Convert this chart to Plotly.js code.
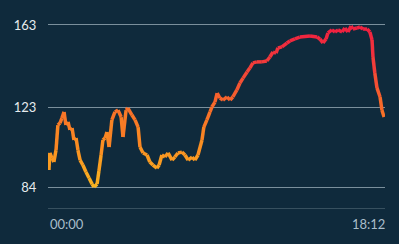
<!DOCTYPE html>
<html>
<head>
<meta charset="utf-8">
<script src="https://cdn.plot.ly/plotly-3.0.1.min.js"></script>
<style>html,body{margin:0;padding:0;background:#0f2a3c;}#chart{width:399px;height:244px;}</style>
</head>
<body>
<div id="chart"></div>
<script>
// time of day in minutes since start
const minutes = [3,6,13,19,26,32,39,45,52,58,65,71,78,84,91,97,104,113,123,133,143,149,159,165,172,178,185,191,198,207,217,227,237,243,253,259,272,282,292,298,308,321,330,340,353,360,369,379,389,402,411,421,434,444,454,467,476,486,499,505,515,525,531,541,548,557,567,580,590,599,612,622,632,645,654,664,677,693,709,719,729,739,745,758,774,784,800,816,849,872,881,891,901,907,920,930,940,953,962,972,982,988,1001,1011,1021,1034,1043,1050,1053,1059,1066,1076,1082,1089];
// heart rate (bpm)
const heartRate = [92.3,100.6,98.1,96.2,102.0,114.2,115.2,117.6,120.6,114.2,115.7,111.8,112.8,106.9,107.9,102.0,97.1,94.7,91.3,88.4,85.4,84.0,85.4,91.8,99.6,106.9,107.9,110.8,103.5,116.7,120.6,121.5,118.1,108.4,121.5,122.5,119.1,116.7,113.2,103.5,100.6,99.6,96.2,94.7,93.2,94.7,99.6,98.6,100.6,97.1,98.6,100.6,101.0,99.6,97.1,98.6,97.1,99.6,106.9,113.2,116.7,120.6,123.0,125.4,129.8,127.4,126.4,127.9,126.4,127.9,131.3,134.7,137.1,140.1,142.0,144.5,145.0,145.0,145.4,147.4,149.8,149.3,151.8,152.3,154.2,155.2,156.2,157.1,157.6,157.1,156.2,154.2,156.2,159.1,160.6,159.6,160.6,159.6,161.5,159.6,162.5,161.0,161.5,162.0,161.0,161.0,159.6,155.7,147.4,139.6,132.3,127.9,121.5,118.1];
const yTicks = [84, 123, 163];
const xLabels = ["00:00", "18:12"];
const xEnd = 1092;

// colour stops by heart rate
const stops = [[84,[250,180,32]],[105,[250,140,34]],[125,[248,104,42]],[143,[242,62,58]],[160,[240,34,64]]];
function colorFor(v){
  if (v <= stops[0][0]) return 'rgb('+stops[0][1].join(',')+')';
  for (let i=1;i<stops.length;i++){
    if (v <= stops[i][0]){
      const a=stops[i-1], b=stops[i], f=(v-a[0])/(b[0]-a[0]);
      const c=a[1].map((ch,k)=>Math.round(ch+(b[1][k]-ch)*f));
      return 'rgb('+c.join(',')+')';
    }
  }
  return 'rgb('+stops[stops.length-1][1].join(',')+')';
}

const traces = [];
for (let i=0;i<minutes.length-1;i++){
  traces.push({
    x:[minutes[i],minutes[i+1]], y:[heartRate[i],heartRate[i+1]],
    type:'scatter', mode:'lines',
    line:{color:colorFor((heartRate[i]+heartRate[i+1])/2), width:3.5},
    showlegend:false, hoverinfo:'skip'
  });
}

const layout = {
  width:399, height:244,
  margin:{l:48, r:14, t:10, b:36},
  paper_bgcolor:'#0f2a3c', plot_bgcolor:'#0f2a3c',
  font:{family:'Lato, "Open Sans", sans-serif', size:13, color:'#e6ebee'},
  xaxis:{range:[0,xEnd], showgrid:false, zeroline:false, showticklabels:false, ticks:'',
         showline:true, linecolor:'#37505f', linewidth:1, fixedrange:true},
  yaxis:{range:[73.76,170.3], tickvals:yTicks, ticktext:yTicks.map(String),
         showgrid:true, gridcolor:'#7a8f9c', gridwidth:1, zeroline:false,
         ticks:'outside', ticklen:8, tickcolor:'rgba(0,0,0,0)', showline:false,
         tickfont:{size:13, color:'#e6ebee'}, fixedrange:true},
  annotations:[
    {text:xLabels[0], xref:'paper', yref:'paper', x:0, y:0, xanchor:'left', yanchor:'top', yshift:-6, showarrow:false, font:{size:13,color:'#a9bdca'}},
    {text:xLabels[1], xref:'paper', yref:'paper', x:1, y:0, xanchor:'right', yanchor:'top', yshift:-6, xshift:2, showarrow:false, font:{size:13,color:'#a9bdca'}}
  ]
};
Plotly.newPlot('chart', traces, layout, {displayModeBar:false, staticPlot:true});
</script>
</body>
</html>
